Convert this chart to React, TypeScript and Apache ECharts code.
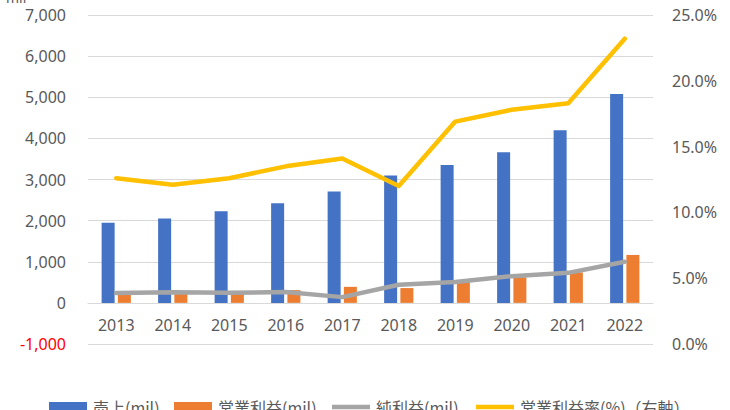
import React, { useEffect, useRef } from "react";
import * as echarts from "echarts";

const years = ["2013", "2014", "2015", "2016", "2017", "2018", "2019", "2020", "2021", "2022"];
const sales = [1950, 2050, 2230, 2420, 2710, 3100, 3350, 3660, 4200, 5080];
const operatingProfit = [230, 250, 260, 310, 390, 360, 500, 620, 740, 1165];
const netProfit = [240, 260, 245, 265, 140, 440, 510, 650, 730, 1000];
const operatingMargin = [0.126, 0.121, 0.126, 0.135, 0.141, 0.12, 0.169, 0.178, 0.183, 0.232];
const legendNames = ["売上(mil)", "営業利益(mil)", "純利益(mil)", "営業利益率(%)（右軸）"];

const numFont = "Noto Sans";
const jpFont = "Noto Sans CJK JP";
const labelColor = "#595959";
const gridColor = "#D9D9D9";
const lineIcon = "path://M0,0 L38,0 L38,4.5 L0,4.5 Z";

const legendLefts = [49, 174, 332, 476];

export default function App() {
  const ref = useRef<HTMLDivElement>(null);
  useEffect(() => {
    if (!ref.current) return;
    const chart = echarts.init(ref.current, undefined, { renderer: "svg" });
    const icons = ["rect", "rect", lineIcon, lineIcon];
    chart.setOption({
      animation: false,
      backgroundColor: "#ffffff",
      grid: { left: 88, right: 77, top: 15, bottom: 66, containLabel: false },
      graphic: [
        {
          type: "text",
          left: 6,
          top: -10,
          style: { text: "mil", fill: labelColor, font: `14px "${numFont}"` },
        },
      ],
      legend: legendNames.map((n, i) => ({
        left: legendLefts[i],
        top: 399,
        padding: 0,
        itemWidth: 38,
        itemHeight: 10,
        itemGap: 6,
        symbolKeepAspect: true,
        textStyle: { fontFamily: jpFont, fontSize: 16, color: labelColor, padding: [0, 0, 0, 1] },
        data: [{ name: n, icon: icons[i] }],
      })),
      xAxis: {
        type: "category",
        data: years,
        axisLine: { show: true, onZero: false, lineStyle: { color: gridColor, width: 1 } },
        offset: -41.1,
        axisTick: { show: false },
        axisLabel: { color: labelColor, fontFamily: numFont, fontSize: 16, margin: 14 },
      },
      yAxis: [
        {
          type: "value",
          min: -1000,
          max: 7000,
          interval: 1000,
          axisLine: { show: false },
          axisTick: { show: false },
          splitLine: { lineStyle: { color: gridColor, width: 1 } },
          axisLabel: {
            margin: 22,
            fontFamily: numFont,
            fontSize: 16,
            formatter: (v: number) => v.toLocaleString("en-US"),
            color: (v: any) => (Number(v) < 0 ? "#FF0000" : labelColor),
          },
        },
        {
          type: "value",
          min: 0,
          max: 0.25,
          interval: 0.05,
          axisLine: { show: false },
          axisTick: { show: false },
          splitLine: { show: false },
          axisLabel: {
            margin: 19,
            fontFamily: numFont,
            fontSize: 16,
            color: labelColor,
            formatter: (v: number) => (v * 100).toFixed(1) + "%",
          },
        },
      ],
      series: [
        {
          name: legendNames[0],
          type: "bar",
          data: sales,
          barWidth: 13,
          barGap: "25%",
          itemStyle: { color: "#4472C4" },
        },
        {
          name: legendNames[1],
          type: "bar",
          data: operatingProfit,
          barWidth: 13,
          barGap: "25%",
          itemStyle: { color: "#ED7D31" },
        },
        {
          name: legendNames[2],
          type: "line",
          data: netProfit,
          symbol: "none",
          lineStyle: { color: "#A5A5A5", width: 4.5, cap: "round", join: "round" },
          itemStyle: { color: "#A5A5A5" },
        },
        {
          name: legendNames[3],
          type: "line",
          yAxisIndex: 1,
          data: operatingMargin,
          symbol: "none",
          lineStyle: { color: "#FFC000", width: 4.5, cap: "round", join: "round" },
          itemStyle: { color: "#FFC000" },
        },
      ],
    });
    return () => chart.dispose();
  }, []);
  return <div ref={ref} style={{ width: 730, height: 410, position: "fixed", left: 0, top: 0 }} />;
}
